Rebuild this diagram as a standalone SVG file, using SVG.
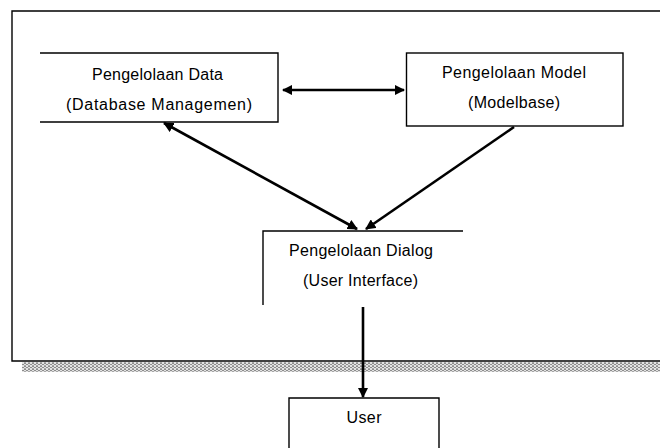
<svg xmlns="http://www.w3.org/2000/svg" width="660" height="448" viewBox="0 0 660 448">
<style>
.box{fill:none;stroke:#000;stroke-width:1.4}
.lbl{font-family:"Liberation Sans",Arial,sans-serif;font-size:16px;fill:#000;text-anchor:middle}
.con{stroke:#000;stroke-width:2.6;fill:none}
</style>
<defs>
<pattern id="hatch" width="4" height="3" patternUnits="userSpaceOnUse">
<rect width="4" height="3" fill="#e2e2e2"/>
<rect width="2" height="1" fill="#8c8c8c"/>
<rect x="2" y="1" width="2" height="1" fill="#8c8c8c"/>
<rect x="0" y="2" width="2" height="1" fill="#a8a8a8"/>
</pattern>
<marker id="ah" viewBox="0 0 10 10" refX="9" refY="5" markerWidth="4" markerHeight="4" orient="auto-start-reverse" markerUnits="strokeWidth">
<path d="M0,0 L10,5 L0,10 z" fill="#000"/>
</marker>
</defs>
<g id="frame">
<rect x="22" y="362" width="638" height="10" fill="url(#hatch)"/>
<path class="box" d="M660,11 H12 V361 H660"/>
</g>
<g id="data">
<path class="box" d="M40,53 H278 V122 H40"/>
<text class="lbl" x="157.5" y="80" textLength="131" lengthAdjust="spacing">Pengelolaan Data</text>
<text class="lbl" x="159" y="110" textLength="186" lengthAdjust="spacing">(Database Managemen)</text>
</g>
<g id="model">
<rect class="box" x="406.5" y="53" width="216.5" height="73"/>
<text class="lbl" x="514" y="78" textLength="144" lengthAdjust="spacing">Pengelolaan Model</text>
<text class="lbl" x="514" y="108" textLength="92" lengthAdjust="spacing">(Modelbase)</text>
</g>
<g id="dialog">
<path class="box" d="M463,231 H263 V305"/>
<text class="lbl" x="361" y="256" textLength="144" lengthAdjust="spacing">Pengelolaan Dialog</text>
<text class="lbl" x="360.5" y="286" textLength="115" lengthAdjust="spacing">(User Interface)</text>
</g>
<g id="user">
<path class="box" d="M289,448 V398 H439 V448"/>
<text class="lbl" x="364" y="423" textLength="35" lengthAdjust="spacing">User</text>
</g>
<g id="connectors">
<line class="con" x1="283" y1="90" x2="404" y2="90" marker-start="url(#ah)" marker-end="url(#ah)"/>
<line class="con" x1="357" y1="229" x2="164" y2="123" marker-start="url(#ah)" marker-end="url(#ah)"/>
<line class="con" x1="514" y1="127" x2="366" y2="229" marker-end="url(#ah)"/>
<line class="con" x1="363" y1="307" x2="363" y2="397" marker-end="url(#ah)"/>
</g>
</svg>
